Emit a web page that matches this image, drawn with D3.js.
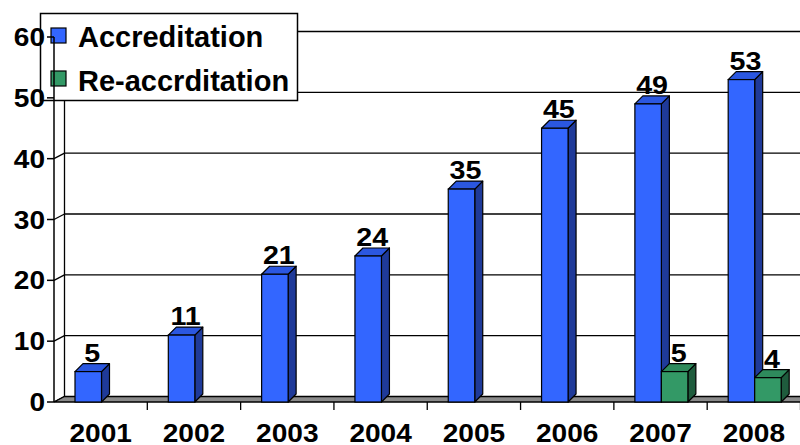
<!DOCTYPE html>
<html>
<head>
<meta charset="utf-8">
<script src="https://cdn.jsdelivr.net/npm/d3@7"></script>
<style>
  body { margin: 0; background: #fff; }
  text { font-family: "Liberation Sans", Arial, sans-serif; font-weight: bold; fill: #000; }
</style>
</head>
<body>
<script>
// data
var years = ["2001", "2002", "2003", "2004", "2005", "2006", "2007", "2008"];
var accreditation = [5, 11, 21, 24, 35, 45, 49, 53];
var reaccreditation = [0, 0, 0, 0, 0, 0, 5, 4];
var seriesNames = ["Accreditation", "Re-accrditation"];
var yTicks = [0, 10, 20, 30, 40, 50, 60];

var width = 800, height = 445;
var wallDx = 10.5, wallDy = -5.5;   // back wall offset
var barDx = 8, barDy = -8;          // bar depth
var stretch = 1.08;                 // numbers in the original are a bit wide
var colors = {
   "Accreditation": { front: "#3366ff", top: "#2b57e0", side: "#1f3a99" },
   "Re-accrditation": { front: "#339966", top: "#2e8a5c", side: "#1f5c3d" }
};

var svg = d3.select("body").append("svg")
   .attr("width", width)
   .attr("height", height);

var x0 = d3.scaleBand().domain(years).range([54, 800.5]);
var x1 = d3.scaleBand().domain(seriesNames).range([21, 74]);
var y = d3.scaleLinear().domain([0, 60]).range([402, 37]);

var left = x0.range()[0], right = x0.range()[1];

function place(px, py) {
   return "translate(" + px + "," + py + ") scale(" + stretch + ",1)";
}

// back wall gridlines
svg.selectAll("line.grid")
   .data(yTicks.filter(function (t) { return t > 0; }))
   .enter().append("line")
   .attr("x1", left + wallDx).attr("x2", width + 20)
   .attr("y1", function (t) { return y(t) + wallDy; })
   .attr("y2", function (t) { return y(t) + wallDy; })
   .attr("stroke", "#000").attr("stroke-width", 1.3);

// left wall diagonals
svg.selectAll("line.diag")
   .data(yTicks)
   .enter().append("line")
   .attr("x1", left).attr("x2", left + wallDx)
   .attr("y1", function (t) { return y(t); })
   .attr("y2", function (t) { return y(t) + wallDy; })
   .attr("stroke", "#000").attr("stroke-width", 1.3);

// back wall vertical edge
svg.append("line")
   .attr("x1", left + wallDx).attr("x2", left + wallDx)
   .attr("y1", y(0) + wallDy).attr("y2", y(60) + wallDy)
   .attr("stroke", "#000").attr("stroke-width", 1.3);

// floor
svg.append("polygon")
   .attr("points", [
      [left, y(0)], [left + wallDx, y(0) + wallDy],
      [right + wallDx + 20, y(0) + wallDy], [right + 20, y(0)]
   ].join(" "))
   .attr("fill", "#8a8a8a").attr("stroke", "#000").attr("stroke-width", 1.3);

// bars
var barData = [];
years.forEach(function (yr, i) {
   [accreditation[i], reaccreditation[i]].forEach(function (v, j) {
      if (v > 0) barData.push({ year: yr, series: seriesNames[j], value: v });
   });
});

var w = x1.bandwidth();
var bars = svg.selectAll("g.bar")
   .data(barData)
   .enter().append("g")
   .attr("class", "bar");

bars.each(function (d) {
   var g = d3.select(this);
   var bx = x0(d.year) + x1(d.series);
   var top = y(d.value), base = y(0);
   var c = colors[d.series];
   g.append("polygon")
      .attr("points", [[bx + w, top], [bx + w + barDx, top + barDy],
         [bx + w + barDx, base + barDy], [bx + w, base]].join(" "))
      .attr("fill", c.side).attr("stroke", "#000").attr("stroke-width", 1.2)
      .attr("stroke-linejoin", "round");
   g.append("polygon")
      .attr("points", [[bx, top], [bx + barDx, top + barDy],
         [bx + w + barDx, top + barDy], [bx + w, top]].join(" "))
      .attr("fill", c.top).attr("stroke", "#000").attr("stroke-width", 1.2)
      .attr("stroke-linejoin", "round");
   g.append("rect")
      .attr("x", bx).attr("y", top)
      .attr("width", w).attr("height", base - top)
      .attr("fill", c.front).attr("stroke", "#000").attr("stroke-width", 1.2);
});

// value labels
svg.selectAll("text.val")
   .data(barData)
   .enter().append("text")
   .attr("class", "val")
   .attr("transform", function (d) {
      return place(x0(d.year) + x1(d.series) + w / 2 + 4, y(d.value) - 10);
   })
   .attr("text-anchor", "middle")
   .style("font-size", "26.5px")
   .text(function (d) { return d.value; });

// legend
var legend = svg.append("g");
legend.append("rect")
   .attr("x", 40.5).attr("y", 13.5)
   .attr("width", 257).attr("height", 87)
   .attr("fill", "#fff").attr("stroke", "#000").attr("stroke-width", 1.5);
seriesNames.forEach(function (s, i) {
   legend.append("rect")
      .attr("x", 51).attr("y", 28 + i * 43)
      .attr("width", 15).attr("height", 15)
      .attr("fill", colors[s].front).attr("stroke", "#000").attr("stroke-width", 1.2);
   legend.append("text")
      .attr("x", 78).attr("y", 46.5 + i * 44)
      .style("font-size", "29px")
      .text(s);
});

// front axis line and ticks
svg.append("line")
   .attr("x1", left).attr("x2", left)
   .attr("y1", y(0)).attr("y2", y(60))
   .attr("stroke", "#000").attr("stroke-width", 1.5);
svg.selectAll("line.ytick")
   .data(yTicks)
   .enter().append("line")
   .attr("x1", left - 7).attr("x2", left)
   .attr("y1", function (t) { return y(t); })
   .attr("y2", function (t) { return y(t); })
   .attr("stroke", "#000").attr("stroke-width", 1.5);
svg.selectAll("text.ylab")
   .data(yTicks)
   .enter().append("text")
   .attr("transform", function (t) { return place(45, y(t) + 9); })
   .attr("text-anchor", "end")
   .style("font-size", "26px")
   .text(function (t) { return t; });

// x axis ticks and labels
svg.selectAll("line.xtick")
   .data(years)
   .enter().append("line")
   .attr("x1", function (d) { return x0(d) + x0.bandwidth(); })
   .attr("x2", function (d) { return x0(d) + x0.bandwidth(); })
   .attr("y1", y(0)).attr("y2", y(0) + 8)
   .attr("stroke", "#000").attr("stroke-width", 1.3);
svg.selectAll("text.xlab")
   .data(years)
   .enter().append("text")
   .attr("transform", function (d) { return place(x0(d) + x0.bandwidth() / 2, 442); })
   .attr("text-anchor", "middle")
   .style("font-size", "26px")
   .text(function (d) { return d; });
</script>
</body>
</html>
